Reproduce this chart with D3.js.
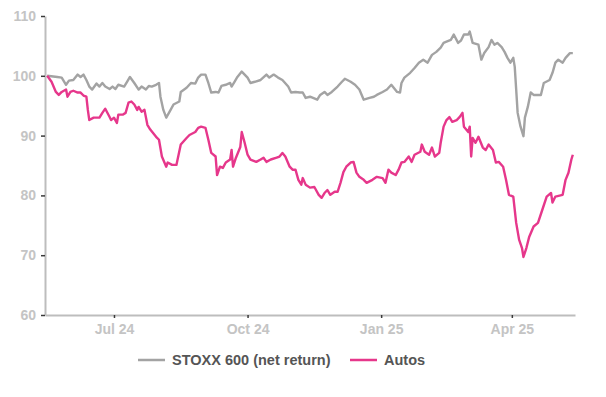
<!DOCTYPE html>
<html>
<head>
<meta charset="utf-8">
<script src="https://cdn.jsdelivr.net/npm/d3@7"></script>
<style>
  body { margin: 0; background: #fff; }
  svg { display: block; }
</style>
</head>
<body>
<div id="graf"></div>
<script>
// Datos (indice = 100 al inicio)
const stoxxDates = ['2024-05-16','2024-05-23','2024-05-26','2024-05-29','2024-05-31','2024-06-03','2024-06-06','2024-06-08','2024-06-10','2024-06-12','2024-06-14','2024-06-16','2024-06-19','2024-06-21','2024-06-23','2024-06-25','2024-06-28','2024-06-30','2024-07-02','2024-07-04','2024-07-08','2024-07-10','2024-07-12','2024-07-15','2024-07-18','2024-07-20','2024-07-23','2024-07-25','2024-07-27','2024-07-30','2024-08-01','2024-08-02','2024-08-04','2024-08-06','2024-08-09','2024-08-11','2024-08-15','2024-08-16','2024-08-20','2024-08-23','2024-08-26','2024-08-28','2024-08-30','2024-09-02','2024-09-04','2024-09-06','2024-09-09','2024-09-11','2024-09-13','2024-09-16','2024-09-19','2024-09-20','2024-09-22','2024-09-24','2024-09-27','2024-09-29','2024-10-01','2024-10-03','2024-10-06','2024-10-10','2024-10-14','2024-10-16','2024-10-19','2024-10-22','2024-10-25','2024-10-29','2024-10-31','2024-11-03','2024-11-06','2024-11-08','2024-11-10','2024-11-13','2024-11-18','2024-11-20','2024-11-23','2024-11-25','2024-11-28','2024-12-02','2024-12-05','2024-12-07','2024-12-11','2024-12-14','2024-12-17','2024-12-20','2024-12-24','2024-12-27','2024-12-29','2025-01-02','2025-01-05','2025-01-08','2025-01-12','2025-01-14','2025-01-15','2025-01-17','2025-01-21','2025-01-24','2025-01-27','2025-01-30','2025-02-02','2025-02-05','2025-02-08','2025-02-11','2025-02-13','2025-02-15','2025-02-18','2025-02-20','2025-02-23','2025-02-25','2025-02-27','2025-03-02','2025-03-03','2025-03-05','2025-03-09','2025-03-11','2025-03-13','2025-03-16','2025-03-18','2025-03-20','2025-03-22','2025-03-25','2025-03-27','2025-03-29','2025-03-31','2025-04-02','2025-04-03','2025-04-04','2025-04-05','2025-04-07','2025-04-09','2025-04-10','2025-04-12','2025-04-14','2025-04-16','2025-04-21','2025-04-23','2025-04-27','2025-04-29','2025-05-01','2025-05-03','2025-05-06','2025-05-08','2025-05-11','2025-05-13']
const stoxxValues = [100.0,99.8,99.7,98.5,99.2,99.3,100.2,99.8,100.2,99.3,98.2,97.7,98.7,98.2,98.8,98.2,97.8,98.2,97.8,98.5,98.2,99.0,99.8,98.8,97.7,98.2,97.7,98.3,98.2,98.5,98.8,96.5,94.3,93.0,94.3,95.2,95.7,97.3,98.0,98.8,98.7,99.7,100.2,100.2,98.8,97.2,97.3,97.2,98.3,98.5,98.8,98.2,99.0,99.8,100.7,100.2,99.7,98.8,99.0,99.3,100.2,99.7,100.2,99.7,99.3,98.2,97.2,97.3,97.2,97.2,96.3,96.5,96.0,96.8,97.3,96.8,97.3,98.2,99.0,99.5,99.0,98.5,97.7,96.0,96.3,96.5,96.8,97.3,97.7,98.5,97.3,97.2,98.8,99.7,100.5,101.3,102.2,102.7,102.2,103.5,104.0,104.7,105.5,105.7,106.0,106.9,105.5,105.9,106.9,106.9,107.4,105.5,105.2,102.7,103.8,104.8,106.0,105.2,105.5,104.8,104.0,103.0,102.2,103.0,101.5,97.7,93.8,91.5,89.9,93.0,94.8,97.2,96.8,96.8,98.8,99.3,100.5,102.2,102.7,102.2,103.0,103.8,103.8]

const autosDates = ['2024-05-16','2024-05-19','2024-05-22','2024-05-24','2024-05-26','2024-05-29','2024-05-30','2024-06-01','2024-06-03','2024-06-06','2024-06-08','2024-06-10','2024-06-12','2024-06-13','2024-06-14','2024-06-17','2024-06-21','2024-06-23','2024-06-25','2024-06-28','2024-06-29','2024-07-01','2024-07-03','2024-07-04','2024-07-07','2024-07-09','2024-07-11','2024-07-13','2024-07-15','2024-07-17','2024-07-18','2024-07-20','2024-07-22','2024-07-24','2024-07-26','2024-07-30','2024-08-01','2024-08-03','2024-08-06','2024-08-07','2024-08-10','2024-08-13','2024-08-16','2024-08-20','2024-08-22','2024-08-26','2024-08-28','2024-08-30','2024-09-02','2024-09-04','2024-09-06','2024-09-09','2024-09-10','2024-09-12','2024-09-14','2024-09-16','2024-09-19','2024-09-20','2024-09-21','2024-09-23','2024-09-26','2024-09-27','2024-09-29','2024-10-01','2024-10-03','2024-10-07','2024-10-10','2024-10-12','2024-10-14','2024-10-17','2024-10-21','2024-10-23','2024-10-25','2024-10-27','2024-10-30','2024-11-01','2024-11-03','2024-11-05','2024-11-07','2024-11-08','2024-11-10','2024-11-13','2024-11-16','2024-11-19','2024-11-21','2024-11-23','2024-11-25','2024-11-27','2024-11-30','2024-12-02','2024-12-04','2024-12-06','2024-12-08','2024-12-11','2024-12-13','2024-12-15','2024-12-17','2024-12-20','2024-12-22','2024-12-26','2024-12-29','2025-01-02','2025-01-04','2025-01-06','2025-01-08','2025-01-11','2025-01-13','2025-01-15','2025-01-17','2025-01-20','2025-01-22','2025-01-24','2025-01-28','2025-01-29','2025-01-31','2025-02-03','2025-02-05','2025-02-07','2025-02-10','2025-02-11','2025-02-13','2025-02-15','2025-02-17','2025-02-19','2025-02-22','2025-02-24','2025-02-26','2025-02-27','2025-03-02','2025-03-03','2025-03-04','2025-03-05','2025-03-07','2025-03-09','2025-03-12','2025-03-14','2025-03-16','2025-03-19','2025-03-21','2025-03-23','2025-03-26','2025-03-28','2025-03-30','2025-04-02','2025-04-04','2025-04-06','2025-04-08','2025-04-09','2025-04-11','2025-04-13','2025-04-16','2025-04-19','2025-04-22','2025-04-25','2025-04-28','2025-04-29','2025-05-01','2025-05-06','2025-05-08','2025-05-10','2025-05-12','2025-05-13']
const autosValues = [100.0,99.0,97.3,96.8,97.3,97.7,96.5,97.3,97.5,97.2,97.2,96.7,96.5,94.3,92.6,93.0,93.0,93.8,94.5,93.1,92.6,93.0,92.1,93.5,93.5,93.8,95.5,95.7,95.2,94.3,94.8,94.0,94.3,91.8,91.0,89.8,89.3,86.5,84.8,85.5,85.1,85.1,88.5,89.6,90.1,90.6,91.3,91.5,91.3,89.3,87.1,86.5,83.4,84.8,84.6,85.5,86.0,87.6,84.8,86.3,88.1,90.6,88.8,86.8,86.0,85.6,86.0,86.3,85.6,86.0,86.3,86.5,87.1,86.5,84.8,84.3,84.3,82.6,81.8,82.9,81.8,81.3,81.4,80.1,79.6,80.4,80.9,80.1,80.6,80.6,82.1,83.9,84.8,85.5,85.6,83.8,83.1,82.6,82.1,82.6,83.1,82.9,82.1,84.3,83.8,83.4,84.3,85.5,85.6,86.5,85.6,86.8,87.3,88.5,87.3,86.8,88.0,86.5,87.1,88.8,91.5,92.6,93.1,92.3,92.6,93.1,93.8,91.5,90.6,91.5,86.5,89.6,88.8,89.8,88.0,87.6,88.5,87.6,85.5,85.6,84.8,82.6,80.1,79.8,75.4,72.6,71.2,69.7,71.2,73.1,74.8,75.4,77.6,79.8,80.4,78.8,79.8,80.1,82.6,83.8,86.0,86.8]

const yTicks = [60, 70, 80, 90, 100, 110]
const seriesNames = ['STOXX 600 (net return)', 'Autos']
const seriesColors = ['#a3a3a3', '#e6378b']

// Espacio de visualizacion
ancho_total = 606
alto_total = 397
margins = {top: 16, left: 45, right: 31, bottom: 82}
ancho = ancho_total - margins.left - margins.right
alto = alto_total - margins.top - margins.bottom

svg = d3.select('#graf').append('svg')
        .attr('width', ancho_total)
        .attr('height', alto_total)

g = svg.append('g')
       .attr('transform', `translate(${margins.left}, ${margins.top})`)

parse = d3.utcParse('%Y-%m-%d')
series = [
  stoxxDates.map((d, i) => ({date: parse(d), value: stoxxValues[i]})),
  autosDates.map((d, i) => ({date: parse(d), value: autosValues[i]}))
]

// Escaladores
x = d3.scaleUtc()
      .domain([new Date(Date.UTC(2024, 4, 14, 12)), new Date(Date.UTC(2025, 4, 14, 12))])
      .range([0, ancho])
y = d3.scaleLinear().domain([60, 110]).range([alto, 0])

fontTicks = '"Liberation Sans", Arial, sans-serif'

// Ejes
ejeX = d3.axisBottom(x)
         .ticks(d3.utcMonth.every(3))
         .tickFormat(d3.utcFormat('%b %y'))
         .tickSize(3)
         .tickSizeOuter(0)
         .tickPadding(6)
ejeY = d3.axisLeft(y)
         .tickValues(yTicks)
         .tickSize(4)
         .tickSizeOuter(0)
         .tickPadding(5)

gx = g.append('g').attr('transform', `translate(0, ${alto})`).call(ejeX)
gy = g.append('g').call(ejeY)

;[gx, gy].forEach(a => {
  a.select('.domain').attr('stroke', '#bdbdbd').attr('stroke-width', 2)
  a.selectAll('.tick line').attr('stroke', '#3a3a3a').attr('stroke-width', 1.5)
  a.selectAll('.tick text')
   .attr('fill', '#c4c4c4')
   .attr('font-family', fontTicks)
   .attr('font-weight', 'bold')
   .attr('font-size', '14px')
})

// Lineas
linea = d3.line()
          .x(d => x(d.date))
          .y(d => y(d.value))

series.forEach((s, i) => {
  g.append('path')
   .datum(s)
   .attr('fill', 'none')
   .attr('stroke', seriesColors[i])
   .attr('stroke-width', 2.4)
   .attr('stroke-linejoin', 'round')
   .attr('d', linea)
})

// Leyenda
leyendaX = [138, 350]
seriesNames.forEach((n, i) => {
  svg.append('line')
     .attr('x1', leyendaX[i]).attr('x2', leyendaX[i] + 27)
     .attr('y1', 360).attr('y2', 360)
     .attr('stroke', seriesColors[i])
     .attr('stroke-width', 2.5)
  svg.append('text')
     .attr('x', leyendaX[i] + 34)
     .attr('y', 365)
     .attr('fill', '#555555')
     .attr('font-family', fontTicks)
     .attr('font-weight', 'bold')
     .attr('font-size', '14.5px')
     .text(n)
})
</script>
</body>
</html>
